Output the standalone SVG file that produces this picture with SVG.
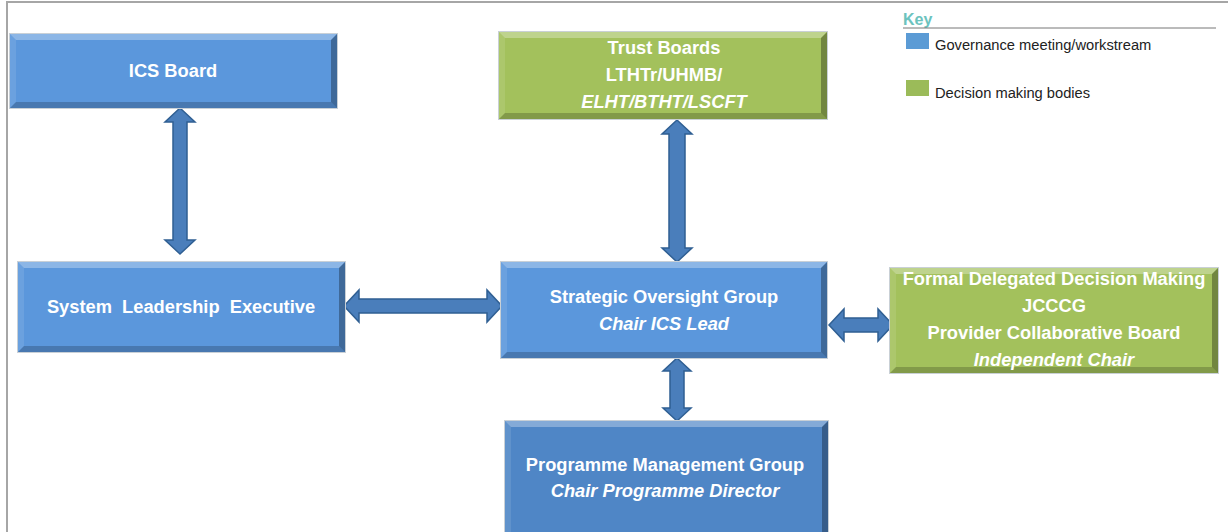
<svg xmlns="http://www.w3.org/2000/svg" width="1228" height="532" viewBox="0 0 1228 532">
<style>
.frame{fill:none;stroke:#a6a6a6;stroke-width:2}
.blue{fill:#5B97DC}
.dblue{fill:#4F86C6}
.green{fill:#A3C15C}
.edge{fill:none;stroke:#c9d0d6;stroke-width:1}
.hl{fill:#ffffff;fill-opacity:.3}
.hl2{fill:#ffffff;fill-opacity:.1}
.sh{fill:#000000;fill-opacity:.3}
.sh2{fill:#000000;fill-opacity:.2}
.t{font-family:"Liberation Sans",Arial,sans-serif;font-weight:bold;font-size:18.3px;fill:#ffffff;text-anchor:middle}
.i{font-style:italic}
.arrow{fill:#4A7EBB;stroke:#2F5F93;stroke-width:1.5;stroke-linejoin:miter}
.key{font-family:"Liberation Sans",Arial,sans-serif;font-size:14.7px;fill:#222222}
.keyt{font-family:"Liberation Sans",Arial,sans-serif;font-size:16px;font-weight:bold;fill:#6CC3BE}
</style>
<path class="frame" d="M7 533 V2 H1229"/>

<g id="key">
<text class="keyt" x="903" y="25">Key</text>
<line x1="903" y1="28" x2="1216" y2="28" stroke="#777" stroke-width="1"/>
<rect x="906" y="33" width="23" height="16" fill="#5B9BD5"/>
<text class="key" x="935" y="50">Governance meeting/workstream</text>
<rect x="906" y="80" width="23" height="16" fill="#9BBB59"/>
<text class="key" x="935" y="98">Decision making bodies</text>
</g>

<g id="connectors">
<polygon class="arrow" points="180,108 195,122 187,122 187,240 195,240 180,254 165,240 173,240 173,122 165,122"/>
<polygon class="arrow" points="677,120 692,134 685,134 685,248 692,248 677,262 662,248 669,248 669,134 662,134"/>
<polygon class="arrow" points="344,306 359,290 359,299 487,299 487,290 502,306 487,322 487,313 359,313 359,322"/>
<polygon class="arrow" points="829,325 844,309 844,318 878,318 878,309 893,325 878,341 878,332 844,332 844,341"/>
<polygon class="arrow" points="677,358 691,371 684,371 684,408 691,408 677,421 663,408 670,408 670,371 663,371"/>
</g>

<g id="ics-board">
<rect class="blue" x="10" y="34" width="327" height="74"/>
<polygon class="hl" points="10,34 337,34 331,40 16,40"/>
<polygon class="hl2" points="10,34 16,40 16,102 10,108"/>
<polygon class="sh" points="337,34 337,108 331,102 331,40"/>
<polygon class="sh2" points="10,108 337,108 331,102 16,102"/>
<rect class="edge" x="9.5" y="33.5" width="328" height="75"/>
<text class="t" x="173" y="77">ICS Board</text>
</g>

<g id="trust-boards">
<rect class="green" x="499" y="32" width="328" height="87"/>
<polygon class="hl" points="499,32 827,32 821,38 505,38"/>
<polygon class="hl2" points="499,32 505,38 505,113 499,119"/>
<polygon class="sh" points="827,32 827,119 821,113 821,38"/>
<polygon class="sh2" points="499,119 827,119 821,113 505,113"/>
<rect class="edge" x="498.5" y="31.5" width="329" height="88"/>
<text class="t" x="664" y="54">Trust Boards</text>
<text class="t" x="664" y="81">LTHTr/UHMB/</text>
<text class="t i" x="664" y="108">ELHT/BTHT/LSCFT</text>
</g>

<g id="system-leadership-executive">
<rect class="blue" x="18" y="262" width="327" height="90"/>
<polygon class="hl" points="18,262 345,262 339,268 24,268"/>
<polygon class="hl2" points="18,262 24,268 24,346 18,352"/>
<polygon class="sh" points="345,262 345,352 339,346 339,268"/>
<polygon class="sh2" points="18,352 345,352 339,346 24,346"/>
<rect class="edge" x="17.5" y="261.5" width="328" height="91"/>
<text class="t" x="181" y="313" xml:space="preserve">System  Leadership  Executive</text>
</g>

<g id="strategic-oversight-group">
<rect class="blue" x="501" y="262" width="326" height="96"/>
<polygon class="hl" points="501,262 827,262 821,268 507,268"/>
<polygon class="hl2" points="501,262 507,268 507,352 501,358"/>
<polygon class="sh" points="827,262 827,358 821,352 821,268"/>
<polygon class="sh2" points="501,358 827,358 821,352 507,352"/>
<rect class="edge" x="500.5" y="261.5" width="327" height="97"/>
<text class="t" x="664" y="303">Strategic Oversight Group</text>
<text class="t i" x="664" y="330">Chair ICS Lead</text>
</g>

<g id="formal-delegated-decision-making">
<rect class="green" x="890" y="268" width="328" height="105"/>
<polygon class="hl" points="890,268 1218,268 1212,274 896,274"/>
<polygon class="hl2" points="890,268 896,274 896,367 890,373"/>
<polygon class="sh" points="1218,268 1218,373 1212,367 1212,274"/>
<polygon class="sh2" points="890,373 1218,373 1212,367 896,367"/>
<rect class="edge" x="889.5" y="267.5" width="329" height="106"/>
<text class="t" x="1054" y="285">Formal Delegated Decision Making</text>
<text class="t" x="1054" y="312">JCCCG</text>
<text class="t" x="1054" y="339">Provider Collaborative Board</text>
<text class="t i" x="1054" y="366">Independent Chair</text>
</g>

<g id="programme-management-group">
<rect class="dblue" x="505" y="421" width="323" height="115"/>
<polygon class="hl" points="505,421 828,421 822,427 511,427"/>
<polygon class="hl2" points="505,421 511,427 511,536 505,536"/>
<polygon class="sh" points="828,421 828,536 822,536 822,427"/>
<rect class="edge" x="504.5" y="420.5" width="324" height="116"/>
<text class="t" x="665" y="471">Programme Management Group</text>
<text class="t i" x="665" y="497">Chair Programme Director</text>
</g>
</svg>
